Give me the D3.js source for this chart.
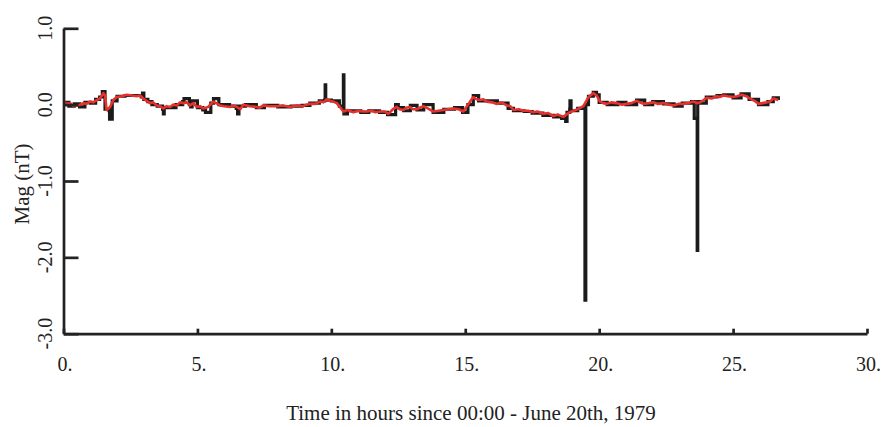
<!DOCTYPE html>
<html>
<head>
<meta charset="utf-8">
<script src="https://cdn.jsdelivr.net/npm/d3@7"></script>
<style>
  body { margin: 0; background: #fff; }
  svg text { font-family: "Liberation Serif", "Times New Roman", serif; fill: #222; }
</style>
</head>
<body>
<svg width="887" height="427"></svg>
<script>
// smoothed trace (red): hours, nT
const redT = [0.0, 0.12, 0.25, 0.37, 0.49, 0.62, 0.74, 0.86, 0.99, 1.11, 1.24, 1.36, 1.49, 1.55, 1.61, 1.74, 1.86, 1.99, 2.17, 2.36,
  2.55, 2.73, 2.86, 2.98, 3.1, 3.23, 3.35, 3.48, 3.6, 3.73, 3.85, 3.98, 4.1, 4.23, 4.35, 4.47, 4.6, 4.72, 4.85, 4.97,
  5.1, 5.22, 5.4, 5.59, 5.7, 5.84, 6.0, 6.22, 6.35, 6.47, 6.6, 6.71, 6.95, 7.21, 7.33, 7.46, 7.7, 7.96, 8.2, 8.46,
  8.7, 8.95, 9.07, 9.2, 9.4, 9.58, 9.7, 9.83, 9.95, 10.07, 10.2, 10.32, 10.45, 10.6, 10.82, 11.0, 11.15, 11.32, 11.5, 11.65,
  11.82, 12.0, 12.13, 12.3, 12.44, 12.55, 12.69, 12.8, 12.94, 13.05, 13.19, 13.3, 13.44, 13.6, 13.81, 14.0, 14.18, 14.35, 14.56, 14.75,
  14.93, 15.12, 15.3, 15.42, 15.55, 15.68, 15.8, 16.0, 16.18, 16.35, 16.55, 16.68, 16.8, 17.0, 17.17, 17.35, 17.54, 17.7, 17.92, 18.1,
  18.29, 18.45, 18.66, 18.85, 19.04, 19.2, 19.41, 19.6, 19.78, 19.91, 20.03, 20.15, 20.28, 20.45, 20.66, 20.85, 21.03, 21.2, 21.4, 21.52,
  21.65, 21.85, 22.02, 22.2, 22.4, 22.6, 22.77, 22.95, 23.14, 23.33, 23.52, 23.65, 23.77, 23.9, 24.02, 24.2, 24.39, 24.5, 24.64, 24.8,
  25.01, 25.15, 25.32, 25.5, 25.63, 25.8, 25.95, 26.1, 26.26, 26.38, 26.5, 26.6, 26.69]
const redV = [0.04, 0.01, 0.02, -0.02, -0.01, 0.00, 0.02, 0.01, 0.04, 0.03, 0.06, 0.08, 0.15, 0.12, -0.07, -0.03, 0.06, 0.10, 0.11, 0.13,
  0.12, 0.11, 0.12, 0.08, 0.05, 0.02, 0.03, -0.01, -0.02, -0.05, -0.02, -0.03, 0.00, -0.01, 0.03, 0.02, 0.03, -0.01, 0.02, -0.03,
  -0.02, -0.05, -0.03, 0.04, 0.02, -0.01, -0.02, -0.03, -0.01, -0.03, -0.06, 0.00, -0.02, -0.03, -0.04, -0.01, -0.02, -0.02, -0.01, -0.03,
  -0.01, -0.02, 0.00, 0.01, 0.01, 0.04, 0.03, 0.07, 0.05, 0.04, 0.02, -0.03, -0.09, -0.07, -0.10, -0.08, -0.09, -0.09, -0.08, -0.10,
  -0.09, -0.09, -0.12, -0.06, -0.03, -0.06, -0.07, -0.04, -0.03, -0.06, -0.06, -0.04, -0.02, -0.05, -0.09, -0.08, -0.07, -0.06, -0.05, -0.06,
  -0.09, 0.01, 0.10, 0.07, 0.06, 0.07, 0.04, 0.03, 0.01, 0.03, -0.01, -0.02, -0.07, -0.06, -0.08, -0.08, -0.10, -0.09, -0.12, -0.11,
  -0.15, -0.13, -0.16, -0.11, -0.08, -0.06, -0.02, 0.10, 0.15, 0.12, 0.04, 0.02, 0.01, 0.03, 0.02, 0.00, 0.01, 0.02, 0.05, 0.03,
  0.01, 0.02, 0.03, 0.01, 0.02, 0.00, -0.01, 0.01, 0.01, 0.02, 0.04, 0.02, 0.03, 0.06, 0.09, 0.08, 0.11, 0.10, 0.12, 0.11,
  0.10, 0.11, 0.13, 0.11, 0.08, 0.05, 0.01, 0.02, 0.03, 0.04, 0.08, 0.07, 0.06]

// raw trace (black), held between samples: hours, nT
const blackT = [0.0, 0.2, 0.4, 0.6, 0.8, 1.0, 1.2, 1.35, 1.45, 1.55, 1.7, 1.72, 1.76, 1.82, 2.0, 2.3, 2.6, 2.9, 2.95, 3.0,
  3.15, 3.3, 3.5, 3.7, 3.73, 3.76, 4.0, 4.2, 4.45, 4.5, 4.7, 4.75, 4.8, 5.0, 5.2, 5.3, 5.5, 5.6, 5.8, 6.2, 6.45,
  6.5, 6.55, 6.8, 7.2, 7.5, 8.0, 8.5, 8.9, 9.2, 9.55, 9.75, 9.77, 9.79, 10.0, 10.3, 10.43, 10.45, 10.47, 10.6, 10.8,
  11.1, 11.4, 11.8, 12.1, 12.4, 12.5, 12.7, 12.95, 13.2, 13.45, 13.8, 14.2, 14.6, 14.9, 15.1, 15.3, 15.5, 15.8, 16.2, 16.5,
  16.6, 16.8, 17.2, 17.5, 17.9, 18.3, 18.6, 18.75, 18.8, 18.9, 18.91, 18.95, 19.2, 19.45, 19.47, 19.5, 19.6, 19.78, 19.9, 20.0,
  20.3, 20.7, 21.0, 21.4, 21.7, 22.0, 22.4, 22.8, 23.1, 23.45, 23.55, 23.65, 23.66, 23.68, 23.8, 24.0, 24.4, 24.65, 25.0, 25.3,
  25.6, 25.95, 26.3, 26.5, 26.69]
const blackV = [0.03, -0.02, 0.01, -0.03, 0.03, 0.02, 0.07, 0.10, 0.17, -0.06, -0.08, -0.19, -0.19, 0.05, 0.11, 0.12, 0.12, 0.10, 0.15, 0.07,
  0.04, 0.0, -0.02, -0.06, -0.12, -0.04, -0.04, 0.0, 0.04, 0.08, 0.0, -0.03, 0.05, -0.04, -0.07, -0.10, 0.02, 0.08, 0.0, -0.02, -0.05,
  -0.12, -0.02, 0.0, -0.04, -0.01, -0.03, -0.02, -0.01, 0.02, 0.05, 0.06, 0.26, 0.06, 0.05, -0.02, -0.04, 0.39, -0.12, -0.08, -0.08,
  -0.10, -0.08, -0.10, -0.13, 0.0, -0.04, -0.08, -0.01, -0.07, 0.0, -0.10, -0.06, -0.04, -0.10, 0.0, 0.12, 0.05, 0.05, 0.02, 0.02,
  -0.05, -0.08, -0.09, -0.11, -0.14, -0.16, -0.18, -0.22, -0.10, -0.06, 0.05, -0.08, -0.05, -0.02, -2.56, 0.0, 0.11, 0.16, 0.13, 0.03,
  0.0, 0.03, 0.0, 0.06, 0.0, 0.04, 0.01, -0.02, 0.02, 0.04, -0.18, -0.18, -1.91, 0.04, 0.02, 0.10, 0.12, 0.13, 0.09, 0.14,
  0.07, 0.0, 0.04, 0.09, 0.06]

const xTicks = [0, 5, 10, 15, 20, 25, 30]
const xTickLabels = ["0.", "5.", "10.", "15.", "20.", "25.", "30."]
const yTicks = [1, 0, -1, -2, -3]
const yTickLabels = ["1.0", "0.0", "-1.0", "-2.0", "-3.0"]

const svg = d3.select("svg")

const x = d3.scaleLinear().domain([0, 30]).range([63.5, 867])
const y = d3.scaleLinear().domain([-3, 1]).range([333.7, 28.3])

const red = redT.map((t, i) => ({t: t, v: redV[i]}))
const black = blackT.map((t, i) => ({t: t, v: blackV[i]}))

const line = d3.line().x(d => x(d.t)).y(d => y(d.v))
const stepLine = d3.line().x(d => x(d.t)).y(d => y(d.v)).curve(d3.curveStepAfter)

svg.append("path")
  .datum(black)
  .attr("d", stepLine)
  .attr("fill", "none")
  .attr("stroke", "#1b1b1b")
  .attr("stroke-width", 3.2)

svg.append("path")
  .datum(red)
  .attr("d", line)
  .attr("fill", "none")
  .attr("stroke", "#e8312c")
  .attr("stroke-width", 2.6)
  .attr("stroke-linejoin", "round")

// y axis, ticks pointing inward
svg.append("g")
  .attr("transform", "translate(" + x(0) + ",0)")
  .call(d3.axisRight(y).tickValues(yTicks).tickSize(15).tickSizeOuter(0).tickFormat(""))

// x axis, small ticks pointing up
svg.append("g")
  .attr("transform", "translate(0," + y(-3) + ")")
  .call(d3.axisBottom(x).tickValues(xTicks).tickSize(-5).tickSizeOuter(0).tickFormat(""))

svg.selectAll(".domain, .tick line")
  .attr("stroke", "#222")
  .attr("stroke-width", 2.7)

svg.selectAll(".ylab")
  .data(yTicks)
  .enter().append("text")
  .attr("class", "ylab")
  .attr("transform", (d) => "translate(52," + y(d) + ") rotate(-90)")
  .attr("text-anchor", "middle")
  .attr("font-size", 20)
  .text((d, i) => yTickLabels[i])

svg.selectAll(".xlab")
  .data(xTicks)
  .enter().append("text")
  .attr("class", "xlab")
  .attr("x", d => x(d) + 1.5)
  .attr("y", 371)
  .attr("text-anchor", "middle")
  .attr("font-size", 20)
  .text((d, i) => xTickLabels[i])

svg.append("text")
  .attr("transform", "translate(29,184) rotate(-90)")
  .attr("text-anchor", "middle")
  .attr("font-size", 21)
  .text("Mag (nT)")

svg.append("text")
  .attr("x", 471)
  .attr("y", 420)
  .attr("text-anchor", "middle")
  .attr("font-size", 21)
  .text("Time in hours since 00:00 - June 20th, 1979")
</script>
</body>
</html>
